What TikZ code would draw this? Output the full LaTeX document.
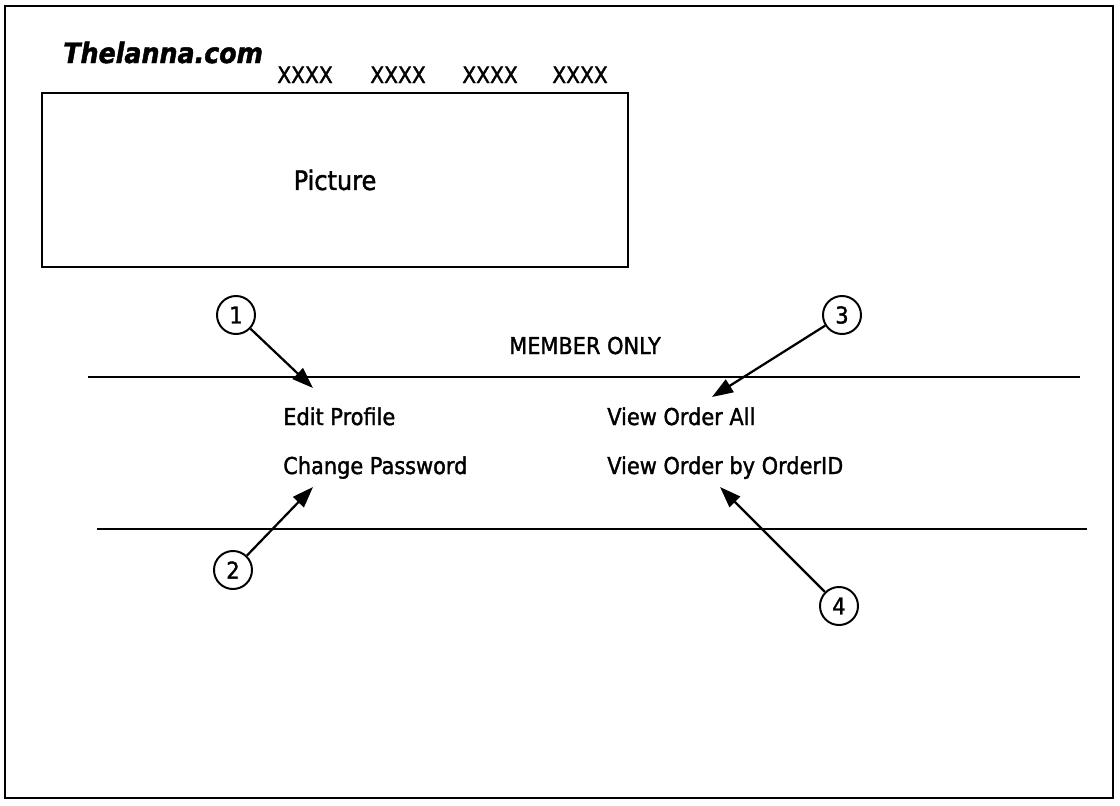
\documentclass[tikz,border=0pt]{standalone}
\usepackage{fontspec}
\setmainfont{DejaVu Sans}
\newfontfamily\shotfont[FakeStretch=0.9,FakeBold=1.5]{DejaVu Sans}
\newfontfamily\logofont[FakeStretch=0.9,FakeBold=1.5]{DejaVu Sans}
\usetikzlibrary{arrows.meta,positioning}

\begin{document}
\begin{tikzpicture}[x=0.025cm,y=-0.025cm,txt/.style={font=\shotfont\fontsize{16.5}{20}\selectfont,inner sep=0pt},num/.style={draw,circle,line width=1.4pt,minimum size=0.95cm,inner sep=0pt,font=\shotfont\fontsize{16.5}{20}\selectfont},arr/.style={-{Triangle[length=15pt,width=10.5pt]},line width=1.6pt},rule/.style={line width=1.3pt}]
\useasboundingbox(0,0)rectangle(1120,805);
\draw[line width=1.5pt](5,6)rectangle(1113,798);
\node[anchor=base west,inner sep=0pt,font=\logofont\fontsize{20}{24}\selectfont\bfseries\itshape](logo)at(63,63){Thelanna.com};
\foreach \x/\n in {277/menua,370/menub,462/menuc,552/menud}\node[anchor=base west,inner sep=0pt,font=\shotfont\fontsize{16}{19}\selectfont](\n)at(\x,83){XXXX};
\node[draw,line width=1.5pt,minimum width=14.65cm,minimum height=4.35cm,font=\shotfont\fontsize{19}{23}\selectfont](pic)at(335,180){Picture};
\node[txt,anchor=base](member)at(585,354){MEMBER ONLY};
\draw[rule](88,377)--(1080,377);\draw[rule](97,529)--(1087,529);
\node[txt,anchor=base west](edit)at(283,425){Edit Profile};
\node[txt,anchor=base west](pass)at(283,474){Change Password};
\node[txt,anchor=base west](all)at(607,425){View Order All};
\node[txt,anchor=base west](byid)at(607,474){View Order by OrderID};
\node[num](one)at(236,315){1};\node[num](two)at(233,570){2};\node[num](three)at(842,315){3};\node[num](four)at(839,606){4};
\coordinate(tipa)at(313,388);\coordinate(tipb)at(313,487);\coordinate(tipc)at(712,397);\coordinate(tipd)at(720,487);
\draw[arr](one)--(tipa);\draw[arr](two)--(tipb);\draw[arr](three)--(tipc);\draw[arr](four)--(tipd);
\end{tikzpicture}
\end{document}
